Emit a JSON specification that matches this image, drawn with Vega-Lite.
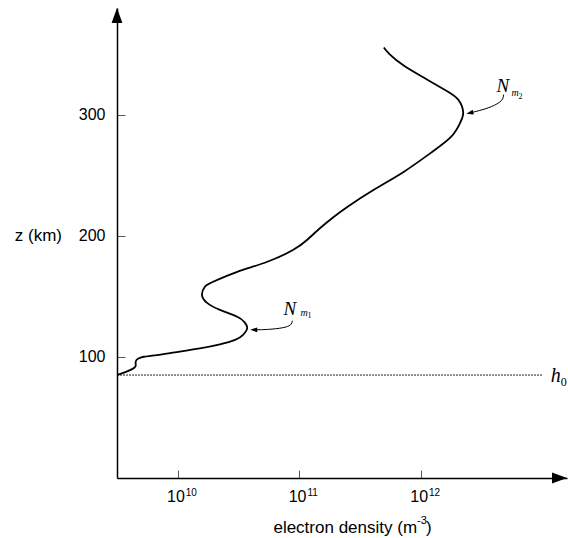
{
  "$schema": "https://vega.github.io/schema/vega-lite/v6.json",
  "width": 450,
  "height": 470,
  "autosize": {"type": "none"},
  "padding": {"left": 117, "top": 8, "right": 1, "bottom": 60},
  "background": "white",
  "config": {"view": {"stroke": null}},
  "datasets": {
    "curve": [
      {"i": 1, "n": 3.19e9, "z": 85.1},
      {"i": 2, "n": 3.75e9, "z": 87.6},
      {"i": 3, "n": 4.25e9, "z": 90.1},
      {"i": 4, "n": 4.5e9, "z": 92.4},
      {"i": 5, "n": 4.5e9, "z": 95.9},
      {"i": 6, "n": 4.7e9, "z": 98.4},
      {"i": 7, "n": 5.25e9, "z": 100.1},
      {"i": 8, "n": 6.46e9, "z": 101.2},
      {"i": 9, "n": 9.44e9, "z": 103.7},
      {"i": 10, "n": 1.52e10, "z": 107},
      {"i": 11, "n": 2.22e10, "z": 110.3},
      {"i": 12, "n": 2.96e10, "z": 114},
      {"i": 13, "n": 3.44e10, "z": 118.2},
      {"i": 14, "n": 3.72e10, "z": 124},
      {"i": 15, "n": 3.51e10, "z": 128.9},
      {"i": 16, "n": 3.08e10, "z": 133.1},
      {"i": 17, "n": 2.22e10, "z": 138.8},
      {"i": 18, "n": 1.74e10, "z": 144.6},
      {"i": 19, "n": 1.58e10, "z": 151.2},
      {"i": 20, "n": 1.67e10, "z": 157.9},
      {"i": 21, "n": 1.95e10, "z": 162},
      {"i": 22, "n": 3.08e10, "z": 170.2},
      {"i": 23, "n": 5.45e10, "z": 178.5},
      {"i": 24, "n": 8.91e10, "z": 188.4},
      {"i": 25, "n": 1.16e11, "z": 196.7},
      {"i": 26, "n": 1.49e11, "z": 206.6},
      {"i": 27, "n": 1.91e11, "z": 215.5},
      {"i": 28, "n": 2.49e11, "z": 224},
      {"i": 29, "n": 4.09e11, "z": 238},
      {"i": 30, "n": 7.24e11, "z": 252.9},
      {"i": 31, "n": 1.21e12, "z": 268.6},
      {"i": 32, "n": 1.77e12, "z": 281.8},
      {"i": 33, "n": 2.10e12, "z": 293.4},
      {"i": 34, "n": 2.22e12, "z": 301.7},
      {"i": 35, "n": 2.02e12, "z": 312.4},
      {"i": 36, "n": 1.55e12, "z": 320.7},
      {"i": 37, "n": 1.05e12, "z": 330.6},
      {"i": 38, "n": 7.2e11, "z": 340.5},
      {"i": 39, "n": 5.5e11, "z": 350},
      {"i": 40, "n": 4.94e11, "z": 355.4}
    ],
    "arrows": [
      {"g": "m1", "i": 1, "n": 8.75e10, "z": 129.8},
      {"g": "m1", "i": 2, "n": 8.43e10, "z": 126.4},
      {"g": "m1", "i": 3, "n": 7.24e10, "z": 124},
      {"g": "m1", "i": 4, "n": 5.55e10, "z": 122.7},
      {"g": "m1", "i": 5, "n": 4.33e10, "z": 122.3},
      {"g": "m2", "i": 1, "n": 4.76e12, "z": 316.5},
      {"g": "m2", "i": 2, "n": 4.58e12, "z": 311.6},
      {"g": "m2", "i": 3, "n": 3.79e12, "z": 306.6},
      {"g": "m2", "i": 4, "n": 3.01e12, "z": 303.3},
      {"g": "m2", "i": 5, "n": 2.59e12, "z": 301.7}
    ],
    "xlabels": [
      {"n": 1e10, "z": 0, "base": "10", "exp": "10"},
      {"n": 1e11, "z": 0, "base": "10", "exp": "11"},
      {"n": 1e12, "z": 0, "base": "10", "exp": "12"}
    ]
  },
  "encoding": {
    "x": {
      "field": "n",
      "type": "quantitative",
      "scale": {"type": "log", "domain": [3.1623e9, 1.5849e13], "nice": false},
      "axis": {
        "values": [1e10, 1e11, 1e12],
        "labels": false,
        "title": null,
        "grid": false,
        "domainColor": "black",
        "domainWidth": 1.5,
        "tickColor": "#555",
        "tickWidth": 1,
        "tickSize": -8
      }
    },
    "y": {
      "field": "z",
      "type": "quantitative",
      "scale": {"domain": [0, 388], "nice": false, "zero": false},
      "axis": {
        "values": [100, 200, 300],
        "title": null,
        "grid": false,
        "domainColor": "black",
        "domainWidth": 1.5,
        "tickColor": "#555",
        "tickWidth": 1,
        "tickSize": -8,
        "labelPadding": 20,
        "labelFont": "Liberation Sans",
        "labelFontSize": 16,
        "labelColor": "black"
      }
    }
  },
  "layer": [
    {
      "data": {"values": [{"n": 3.1623e9, "n2": 1e13, "z": 85}]},
      "mark": {"type": "rule", "color": "#222", "strokeWidth": 1, "strokeDash": [2, 1]},
      "encoding": {"x2": {"field": "n2"}}
    },
    {
      "data": {"name": "curve"},
      "mark": {"type": "line", "color": "black", "strokeWidth": 1.8, "interpolate": "natural"},
      "encoding": {"order": {"field": "i", "type": "quantitative"}}
    },
    {
      "data": {"name": "arrows"},
      "mark": {"type": "line", "color": "black", "strokeWidth": 1, "interpolate": "natural"},
      "encoding": {
        "detail": {"field": "g"},
        "order": {"field": "i", "type": "quantitative"}
      }
    },
    {
      "data": {"values": [{"n": 3.94e10, "z": 122.3}]},
      "mark": {"type": "point", "shape": "M0,0L2,-0.7L2,0.7Z", "size": 49, "filled": true, "color": "black", "opacity": 1}
    },
    {
      "data": {"values": [{"n": 2.36e12, "z": 300.8}]},
      "mark": {"type": "point", "shape": "M0,0L2,-0.7L2,0.7Z", "size": 49, "filled": true, "color": "black", "opacity": 1, "angle": 347}
    },
    {
      "data": {"values": [{"n": 3.1623e9, "z": 388}]},
      "mark": {"type": "point", "shape": "M0,0L0.72,2L-0.72,2Z", "size": 225, "filled": true, "color": "black", "opacity": 1}
    },
    {
      "data": {"values": [{"n": 1.5849e13, "z": 0}]},
      "mark": {"type": "point", "shape": "M0,0L-2,-0.72L-2,0.72Z", "size": 225, "filled": true, "color": "black", "opacity": 1}
    },
    {
      "data": {"name": "xlabels"},
      "mark": {"type": "text", "align": "right", "baseline": "alphabetic", "dx": 7, "dy": 24, "font": "Liberation Sans", "fontSize": 16, "color": "black"},
      "encoding": {"text": {"field": "base"}}
    },
    {
      "data": {"name": "xlabels"},
      "mark": {"type": "text", "align": "left", "baseline": "alphabetic", "dx": 8, "dy": 18, "font": "Liberation Sans", "fontSize": 10, "color": "black"},
      "encoding": {"text": {"field": "exp"}}
    },
    {
      "data": {"values": [{"n": 1e12, "z": 0, "t": "electron density (m"}]},
      "mark": {"type": "text", "align": "right", "baseline": "alphabetic", "dx": -4, "dy": 55, "font": "Liberation Sans", "fontSize": 17, "color": "black"},
      "encoding": {"text": {"field": "t"}}
    },
    {
      "data": {"values": [{"n": 1e12, "z": 0, "t": "-3"}]},
      "mark": {"type": "text", "align": "left", "baseline": "alphabetic", "dx": -4, "dy": 46, "font": "Liberation Sans", "fontSize": 11, "color": "black"},
      "encoding": {"text": {"field": "t"}}
    },
    {
      "data": {"values": [{"n": 1e12, "z": 0, "t": ")"}]},
      "mark": {"type": "text", "align": "left", "baseline": "alphabetic", "dx": 5, "dy": 55, "font": "Liberation Sans", "fontSize": 17, "color": "black"},
      "encoding": {"text": {"field": "t"}}
    },
    {
      "data": {"values": [{"n": 3.1623e9, "z": 200, "t": "z (km)"}]},
      "mark": {"type": "text", "align": "right", "baseline": "middle", "dx": -55, "font": "Liberation Sans", "fontSize": 17, "color": "black"},
      "encoding": {"text": {"field": "t"}}
    },
    {
      "data": {"values": [{"n": 7.38e10, "z": 134.7, "t": "N"}, {"n": 4.17e12, "z": 319, "t": "N"}]},
      "mark": {"type": "text", "align": "left", "baseline": "alphabetic", "font": "Liberation Serif", "fontStyle": "italic", "fontSize": 19, "color": "black"},
      "encoding": {"text": {"field": "t"}}
    },
    {
      "data": {"values": [{"n": 7.38e10, "z": 134.7, "t": "m"}]},
      "mark": {"type": "text", "align": "left", "baseline": "alphabetic", "dx": 17, "dy": 1, "font": "Liberation Serif", "fontStyle": "italic", "fontSize": 10, "color": "black"},
      "encoding": {"text": {"field": "t"}}
    },
    {
      "data": {"values": [{"n": 7.38e10, "z": 134.7, "t": "1"}]},
      "mark": {"type": "text", "align": "left", "baseline": "alphabetic", "dx": 24, "dy": 3, "font": "Liberation Serif", "fontSize": 8, "color": "black"},
      "encoding": {"text": {"field": "t"}}
    },
    {
      "data": {"values": [{"n": 4.17e12, "z": 319, "t": "m"}]},
      "mark": {"type": "text", "align": "left", "baseline": "alphabetic", "dx": 15, "dy": 4, "font": "Liberation Serif", "fontStyle": "italic", "fontSize": 10, "color": "black"},
      "encoding": {"text": {"field": "t"}}
    },
    {
      "data": {"values": [{"n": 4.17e12, "z": 319, "t": "2"}]},
      "mark": {"type": "text", "align": "left", "baseline": "alphabetic", "dx": 22, "dy": 7, "font": "Liberation Serif", "fontSize": 8, "color": "black"},
      "encoding": {"text": {"field": "t"}}
    },
    {
      "data": {"values": [{"n": 1e13, "z": 85, "t": "h"}]},
      "mark": {"type": "text", "align": "left", "baseline": "alphabetic", "dx": 8, "dy": 7, "font": "Liberation Serif", "fontStyle": "italic", "fontSize": 20, "color": "black"},
      "encoding": {"text": {"field": "t"}}
    },
    {
      "data": {"values": [{"n": 1e13, "z": 85, "t": "0"}]},
      "mark": {"type": "text", "align": "left", "baseline": "alphabetic", "dx": 18, "dy": 11, "font": "Liberation Serif", "fontSize": 12, "color": "black"},
      "encoding": {"text": {"field": "t"}}
    }
  ]
}
